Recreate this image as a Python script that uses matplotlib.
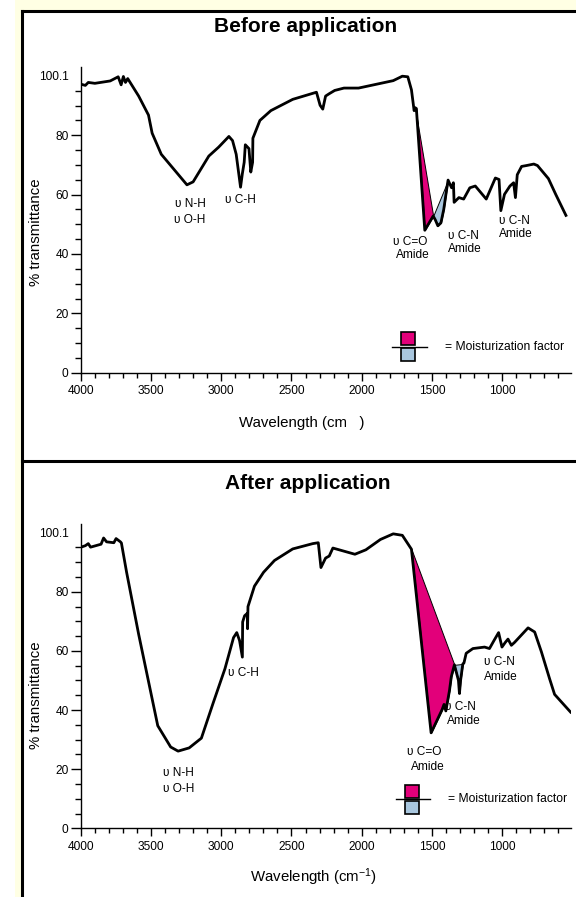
import numpy as np
import matplotlib
matplotlib.use('Agg')
import matplotlib.pyplot as plt
from matplotlib.patches import Rectangle
from matplotlib.lines import Line2D
from matplotlib.ticker import FixedLocator

plt.rcParams['font.family'] = ['Liberation Sans', 'DejaVu Sans']
plt.rcParams['mathtext.default'] = 'regular'

# IR spectrum before application (wavenumber, % transmittance)
before_wn = [4000, 3969, 3948, 3901, 3792, 3735, 3714, 3698, 3683, 3667, 3589, 3519,
             3493, 3428, 3245, 3201, 3089, 3019, 2946, 2920, 2894, 2863, 2850, 2837,
             2829, 2803, 2790, 2777, 2775, 2725, 2647, 2491, 2322, 2296, 2277, 2257,
             2231, 2192, 2126, 2022, 1775, 1710, 1671, 1645, 1626, 1619, 1610, 1550,
             1525, 1490, 1475, 1457, 1435, 1415, 1395, 1384, 1359, 1346, 1341, 1307,
             1273, 1229, 1190, 1112, 1047, 1021, 1008, 982, 943, 917, 904, 891, 860,
             825, 773, 747, 669, 617, 544]
before_t = [97.2, 96.8, 97.8, 97.5, 98.3, 99.7, 97.0, 99.8, 97.8, 99.1, 93.2, 86.8,
            80.7, 73.6, 63.3, 64.3, 73.0, 76.0, 79.6, 78.2, 73.6, 62.5, 67.1, 70.9,
            76.8, 75.5, 67.6, 70.9, 79.0, 85.0, 88.3, 92.1, 94.5, 90.1, 88.8, 93.2,
            94.0, 95.1, 95.9, 95.9, 98.4, 99.9, 99.7, 95.3, 88.3, 89.3, 89.0, 48.0,
            50.0, 52.8, 51.5, 49.5, 50.5, 55.0, 61.5, 64.9, 62.3, 64.0, 57.4, 59.0,
            58.5, 62.3, 62.9, 58.5, 65.6, 65.1, 54.6, 60.1, 62.9, 64.0, 59.0, 66.7,
            69.5, 69.8, 70.3, 69.8, 65.4, 60.1, 53.0]

# IR spectrum after application
after_wn = [4000, 3969, 3948, 3932, 3857, 3839, 3818, 3766, 3750, 3719, 3712, 3675,
            3589, 3453, 3361, 3308, 3229, 3142, 3058, 2974, 2913, 2890, 2870, 2850,
            2848, 2834, 2815, 2813, 2810, 2764, 2699, 2621, 2491, 2348, 2309, 2290,
            2257, 2231, 2205, 2048, 1970, 1866, 1775, 1710, 1645, 1505, 1426, 1413,
            1400, 1374, 1361, 1339, 1310, 1303, 1295, 1279, 1271, 1255, 1207, 1124,
            1089, 1057, 1024, 1000, 976, 957, 933, 910, 814, 767, 719, 660, 625, 511]
after_t = [95.1, 95.6, 96.3, 95.1, 96.1, 98.2, 96.9, 96.6, 98.0, 96.9, 96.5, 86.6,
           65.6, 34.7, 27.5, 26.1, 27.2, 30.5, 42.4, 54.0, 64.5, 66.2, 63.5, 57.9,
           69.8, 71.9, 72.7, 67.5, 75.0, 81.9, 86.6, 90.6, 94.5, 96.3, 96.6, 88.2,
           91.4, 92.1, 94.8, 92.7, 94.2, 97.7, 99.6, 99.1, 94.4, 32.3, 40.2, 41.9,
           39.7, 46.6, 51.3, 55.3, 50.0, 45.6, 50.0, 55.6, 55.9, 59.2, 60.8, 61.3,
           60.8, 63.5, 66.2, 61.3, 62.9, 64.0, 61.9, 62.9, 67.8, 66.4, 59.7, 50.5, 45.3, 39.3]

# band areas (start, end wavenumber of the baseline chord)
before_amide1 = (1619, 1490)
before_amide2 = (1490, 1384)
after_amide1 = (1645, 1339)
after_amide2 = (1339, 1279)

# band labels (text, wavenumber, transmittance)
before_labels = [('υ N-H', 3223, 56.7), ('υ O-H', 3223, 51.5), ('υ C-H', 2867, 58.1),
                 ('υ C=O', 1655, 43.9), ('Amide', 1634, 39.5),
                 ('υ C-N', 1277, 46.2), ('Amide', 1263, 41.7),
                 ('υ C-N', 914, 51.1), ('Amide', 900, 46.9)]
after_labels = [('υ N-H', 3305, 18.7), ('υ O-H', 3305, 13.3), ('υ C-H', 2841, 52.6),
                ('υ C=O', 1551, 25.8), ('Amide', 1530, 20.8),
                ('υ C-N', 1298, 41.0), ('Amide', 1269, 36.3),
                ('υ C-N', 1019, 56.2), ('Amide', 1005, 51.3)]

PINK = '#E2007A'
BLUE = '#A9C7DF'
W, H = 576, 897

fig = plt.figure(figsize=(W / 100, H / 100), dpi=100)
fig.patch.set_facecolor('white')

# background frame
fig.patches.append(Rectangle((15 / W, 0), 1, 1, transform=fig.transFigure,
                             facecolor='#FFFFE4', edgecolor='none', zorder=-20))
fig.patches.append(Rectangle((22 / W, 0), 1, 1 - 11.3 / H, transform=fig.transFigure,
                             facecolor='white', edgecolor='none', zorder=-19))
for xs, ys in [([22, 22], [11.3, H]), ([22, W], [11.3, 11.3]), ([22, W], [460.7, 460.7])]:
    fig.lines.append(Line2D([x / W for x in xs], [1 - y / H for y in ys],
                            transform=fig.transFigure, color='black', lw=2.2))


def shade(ax, wn, t, band, color):
    wn = np.array(wn)
    t = np.array(t)
    start, end = band
    m = (wn <= start) & (wn >= end)
    base = np.interp(wn[m], [end, start], [t[wn == end][0], t[wn == start][0]])
    ax.fill_between(wn[m], t[m], base, facecolor=color, edgecolor='black',
                    linewidth=0.7, zorder=2)


def legend(ax, wc, tl, wl0, wl1, wt):
    ax.add_patch(Rectangle((wc - 50, tl + 0.5), 100, 4.4, facecolor=PINK,
                           edgecolor='black', lw=1.2, zorder=3))
    ax.add_patch(Rectangle((wc - 50, tl - 4.9), 100, 4.4, facecolor=BLUE,
                           edgecolor='black', lw=1.2, zorder=3))
    ax.plot([wl0, wl1], [tl, tl], color='black', lw=1.0)
    ax.text(wt, tl, '= Moisturization factor', ha='left', va='center', fontsize=8.7)


def panel(rect, wn, t, amide1, amide2, labels):
    ax = fig.add_axes(rect)
    ax.set_facecolor('white')
    ax.set_xlim(4000, 508)
    ax.set_ylim(0, 103)
    ax.plot(wn, t, color='black', lw=2.0, zorder=4)
    shade(ax, wn, t, amide1, PINK)
    shade(ax, wn, t, amide2, BLUE)
    for s, x, y in labels:
        ax.text(x, y, s, ha='center', va='center', fontsize=8.6)
    for side in ['top', 'right']:
        ax.spines[side].set_visible(False)
    for side in ['left', 'bottom']:
        ax.spines[side].set_linewidth(1.0)
    ax.set_xticks([4000, 3500, 3000, 2500, 2000, 1500, 1000])
    ax.xaxis.set_minor_locator(FixedLocator([w for w in range(3900, 500, -100) if w % 500]))
    ax.set_yticks([0, 20, 40, 60, 80, 100.1])
    ax.set_yticklabels(['0', '20', '40', '60', '80', '100.1'])
    ax.yaxis.set_minor_locator(FixedLocator([v for v in range(5, 100, 5) if v % 20]))
    ax.tick_params(axis='x', which='major', direction='out', length=6, width=1,
                   labelsize=8.6, pad=3)
    ax.tick_params(axis='x', which='minor', direction='out', length=3.4, width=1)
    ax.tick_params(axis='y', which='major', direction='out', length=7, width=1,
                   labelsize=8.6, pad=2)
    ax.tick_params(axis='y', which='minor', direction='out', length=4.3, width=1)
    ax.yaxis.get_major_ticks()[-1].tick1line.set_markersize(0)
    return ax


ax1 = panel([81 / W, (H - 372.7) / H, 490 / W, 305.7 / H],
            before_wn, before_t, before_amide1, before_amide2, before_labels)
legend(ax1, 1670, 8.8, 1787, 1537, 1406)

ax2 = panel([81 / W, (H - 828.3) / H, 490 / W, 304.5 / H],
            after_wn, after_t, after_amide1, after_amide2, after_labels)
legend(ax2, 1639, 9.9, 1755, 1510, 1386)

fig.text(306 / W, 1 - 26 / H, 'Before application', ha='center', va='center',
         fontsize=15, weight='bold')
fig.text(308 / W, 1 - 483.3 / H, 'After application', ha='center', va='center',
         fontsize=15, weight='bold')
fig.text(302 / W, 1 - 423 / H, 'Wavelength (cm   )', ha='center', va='center', fontsize=10.8)
fig.text(314 / W, 1 - 876.7 / H, r'Wavelength (cm$^{-1}$)', ha='center', va='center',
         fontsize=10.8)
fig.text(36 / W, 1 - 231.7 / H, '% transmittance', ha='center', va='center',
         rotation=90, fontsize=10.8)
fig.text(36 / W, 1 - 695 / H, '% transmittance', ha='center', va='center',
         rotation=90, fontsize=10.8)

fig.savefig('out.png', dpi=100)
